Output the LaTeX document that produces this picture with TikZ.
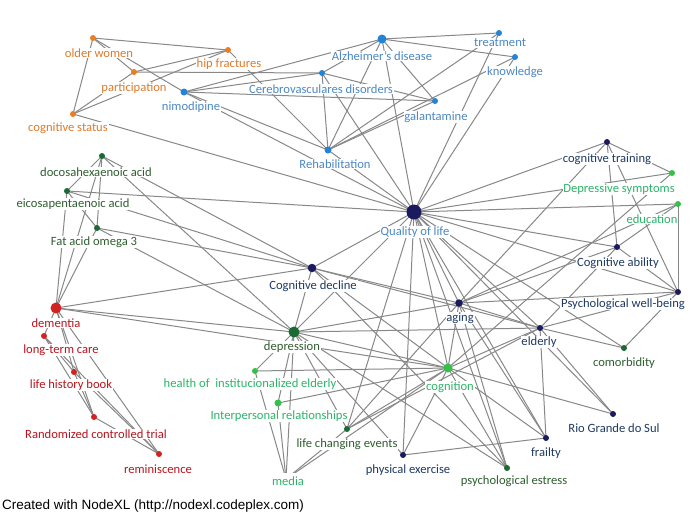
\documentclass[tikz,border=0pt]{standalone}
\usepackage{fontspec}
\setmainfont{Carlito}
\newfontfamily\footfont{Liberation Sans}
\definecolor{orD}{HTML}{E97F22}
\definecolor{orT}{HTML}{DD7B2C}
\definecolor{blD}{HTML}{2383D6}
\definecolor{blT}{HTML}{4C88C4}
\definecolor{dgD}{HTML}{1B6A34}
\definecolor{dgT}{HTML}{2F5E30}
\definecolor{nvD}{HTML}{1B1A5E}
\definecolor{nvT}{HTML}{1E3A63}
\definecolor{lgD}{HTML}{35C04A}
\definecolor{lgT}{HTML}{2DB46A}
\definecolor{rdD}{HTML}{D32222}
\definecolor{rdT}{HTML}{B8151E}
\definecolor{edgegray}{HTML}{888888}
\pgfdeclarelayer{bg}
\pgfsetlayers{bg,main}
\begin{document}
\begin{tikzpicture}[x=1pt,y=-1pt,
  dot/.style={circle,inner sep=0pt,minimum size=6pt},
  lbl/.style={fill=white,inner sep=0.8pt,font=\fontsize{12.6}{14}\selectfont},
  lnk/.style={draw=edgegray,line width=1pt},
  oD/.style={dot,fill=orD}, oT/.style={lbl,text=orT},
  bD/.style={dot,fill=blD}, bT/.style={lbl,text=blT},
  gD/.style={dot,fill=dgD}, gT/.style={lbl,text=dgT},
  nD/.style={dot,fill=nvD}, nT/.style={lbl,text=nvT},
  lD/.style={dot,fill=lgD}, lT/.style={lbl,text=lgT},
  rD/.style={dot,fill=rdD}, rT/.style={lbl,text=rdT}]
\begin{pgfonlayer}{bg}
\fill[white] (0,0) rectangle (692,520);
\end{pgfonlayer}
\useasboundingbox (0,0) rectangle (692,520);
% dots
\node[oD] (olderw) at (93,38) {};
\node[oD] (hipf) at (228,50) {};
\node[oD] (partic) at (134,72) {};
\node[oD] (cogst) at (73,114) {};
\node[bD,minimum size=9pt] (alz) at (382,39) {};
\node[bD] (treat) at (499,33) {};
\node[bD] (know) at (515,57) {};
\node[bD] (cerebro) at (322,73) {};
\node[bD,minimum size=7pt] (nimo) at (184,92) {};
\node[bD] (galant) at (435,101) {};
\node[bD,minimum size=7pt] (rehab) at (328,150) {};
\node[gD] (docosa) at (102,156) {};
\node[gD] (eicosa) at (67,191) {};
\node[gD] (fat) at (97,228) {};
\node[nD,minimum size=15pt] (qol) at (414,212) {};
\node[nD] (cogtrain) at (607,142) {};
\node[lD] (depsym) at (672,173) {};
\node[lD] (educ) at (678,204) {};
\node[nD] (cogab) at (617,247) {};
\node[nD] (pwb) at (678,292) {};
\node[nD,minimum size=8.5pt] (cogdec) at (312,268) {};
\node[nD,minimum size=7.5pt] (aging) at (459,303) {};
\node[nD] (elderly) at (540,328) {};
\node[gD] (comorb) at (624,348) {};
\node[lD,minimum size=9pt] (cognition) at (448,368) {};
\node[nD] (rio) at (613,414) {};
\node[nD] (frailty) at (546,438) {};
\node[nD] (physex) at (403,455) {};
\node[gD] (psychest) at (507,468) {};
\node[gD,minimum size=11pt] (depress) at (294,332) {};
\node[lD] (health) at (255,371) {};
\node[lD,minimum size=7pt] (interp) at (278,403) {};
\node[gD] (lifech) at (347,429) {};
\node[lD] (media) at (286,479) {};
\node[rD,minimum size=11pt] (dementia) at (56,308) {};
\node[rD] (ltc) at (44,336) {};
\node[rD] (lhb) at (74,372) {};
\node[rD] (rct) at (94,417) {};
\node[rD] (remin) at (159,454) {};
% edges
\begin{pgfonlayer}{bg}
\foreach \a/\b in {
 olderw/hipf, olderw/cogst, olderw/nimo, olderw/partic, partic/hipf, partic/cogst,
 partic/cerebro, cogst/hipf, cogst/qol, hipf/rehab,
 alz/treat, alz/know, alz/cerebro, alz/galant, alz/rehab, alz/qol,
 nimo/alz, nimo/cerebro, nimo/galant, nimo/rehab, nimo/qol,
 cerebro/galant, cerebro/rehab, cerebro/qol, treat/rehab, know/rehab, know/qol,
 treat/qol, galant/rehab, rehab/qol,
 docosa/eicosa, docosa/fat, docosa/dementia, eicosa/fat, eicosa/dementia, fat/dementia,
 docosa/cogdec, docosa/depress, eicosa/cogdec, fat/cogdec, fat/depress, eicosa/qol,
 dementia/ltc, dementia/lhb, dementia/rct, dementia/remin, ltc/lhb, ltc/rct, lhb/rct,
 lhb/remin, rct/remin, ltc/remin, dementia/depress, dementia/cogdec, dementia/cognition,
 depress/health, depress/interp, depress/media, depress/cognition, depress/cogdec,
 depress/qol, depress/aging, depress/elderly, depress/psychest, depress/lifech,
 health/cognition, health/media, interp/media, interp/cognition, lifech/media,
 lifech/cognition, lifech/aging, lifech/qol, lifech/elderly, media/cognition,
 physex/frailty, physex/cognition, physex/qol, physex/depress,
 cogdec/qol, cogdec/aging, cogdec/elderly, cogdec/cognition, cogdec/psychest,
 qol/cogtrain, qol/depsym, qol/educ, qol/cogab, qol/pwb, qol/aging, qol/elderly,
 qol/cognition, qol/frailty, qol/rio, qol/psychest, qol/comorb,
 cogtrain/pwb, cogtrain/cogab, cogtrain/aging, educ/cogab, educ/pwb, cogab/pwb,
 aging/pwb, aging/cogab, aging/educ, aging/frailty, aging/psychest, aging/cognition,
 aging/elderly, elderly/pwb, elderly/comorb, elderly/rio, elderly/cognition,
 elderly/frailty, elderly/cogab, cognition/rio, cognition/psychest, cognition/frailty,
 cognition/depsym, comorb/pwb, cogtrain/depsym}
 \draw[lnk] (\a.center) -- (\b.center);
\end{pgfonlayer}
% labels
\node[oT] (olderw-l) at (99,53) {older women};
\node[oT] (hipf-l) at (229,64) {hip fractures};
\node[oT] (partic-l) at (134,88) {participation};
\node[oT] (cogst-l) at (68,128) {cognitive status};
\node[bT] (alz-l) at (382,56) {Alzheimer’s disease};
\node[bT] (treat-l) at (500,43) {treatment};
\node[bT] (know-l) at (515,72) {knowledge};
\node[bT] (galant-l) at (436,117) {galantamine};
\node[bT] (cerebro-l) at (321,89) {Cerebrovasculares disorders};
\node[bT] (nimo-l) at (191,107) {nimodipine};
\node[bT] (rehab-l) at (335,164) {Rehabilitation};
\node[gT] (docosa-l) at (96,172) {docosahexaenoic acid};
\node[gT] (eicosa-l) at (73,204) {eicosapentaenoic acid};
\node[gT] (fat-l) at (94,242) {Fat acid omega 3};
\node[bT] (qol-l) at (415,232) {Quality of life};
\node[nT] (cogtrain-l) at (607,159) {cognitive training};
\node[lT] (depsym-l) at (619,189) {Depressive symptoms};
\node[lT] (educ-l) at (652,219) {education};
\node[nT] (cogab-l) at (618,263) {Cognitive ability};
\node[nT] (pwb-l) at (623,304) {Psychological well-being};
\node[nT] (cogdec-l) at (313,286) {Cognitive decline};
\node[nT] (aging-l) at (460,318) {aging};
\node[nT] (elderly-l) at (539,342) {elderly};
\node[gT] (comorb-l) at (624,363) {comorbidity};
\node[lT] (cognition-l) at (450,387) {cognition};
\node[nT] (rio-l) at (614,428) {Rio Grande do Sul};
\node[nT] (frailty-l) at (546,453) {frailty};
\node[nT] (physex-l) at (408,470) {physical exercise};
\node[gT] (psychest-l) at (514,481) {psychological estress};
\node[gT] (depress-l) at (292,347) {depression};
\node[lT] (health-l) at (250,384) {health of\ \ institucionalized elderly};
\node[lT] (interp-l) at (279,416) {Interpersonal relationships};
\node[gT] (lifech-l) at (347,444) {life changing events};
\node[lT,minimum height=17pt] (media-l) at (288,481) {media};
\node[rT] (dementia-l) at (56,323) {dementia};
\node[rT] (ltc-l) at (61,350) {long-term care};
\node[rT] (lhb-l) at (71,385) {life history book};
\node[rT] (rct-l) at (96,434) {Randomized controlled trial};
\node[rT] (remin-l) at (158,469) {reminiscence};
\node[anchor=west,inner sep=0pt,font=\footfont\fontsize{13.5}{15}\selectfont] (footer) at (2,506) {Created with NodeXL (http://nodexl.codeplex.com)};
\end{tikzpicture}
\end{document}
